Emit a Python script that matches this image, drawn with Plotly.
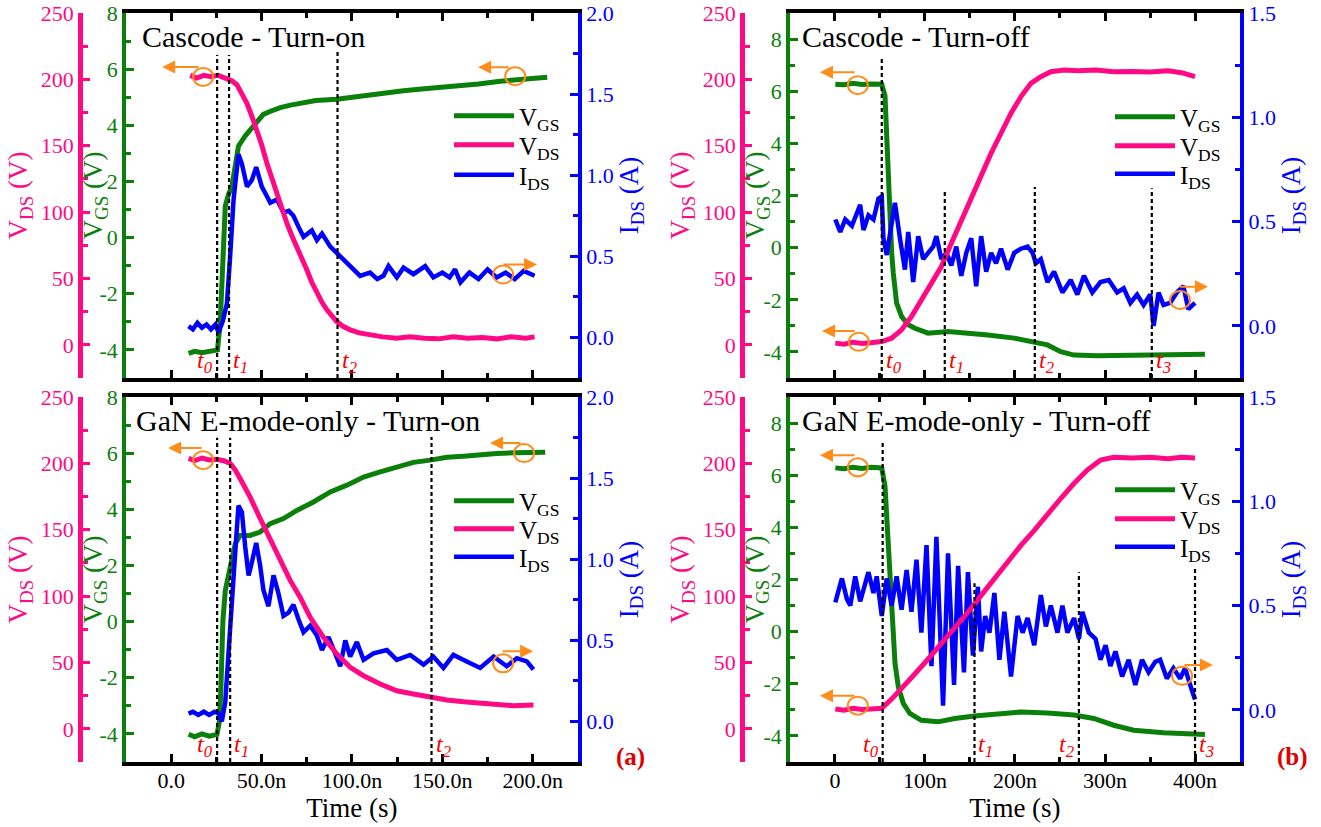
import plotly.graph_objects as go

FONT = "Liberation Serif, Times New Roman, Times, serif"
PINK = "#FF0A84"
GREEN = "#0A800A"
BLUE = "#0000FF"
ORANGE = "#FF8C1A"
TRED = "#FF0000"

# ---------------- data (time in ns) ----------------
# (a) top : Cascode - Turn-on
a1_t_vgs = [9.6, 13, 17, 21, 25.6, 27.1, 28.6, 29.9, 31.7, 33.6, 35.4, 37.2, 40.9, 45.5, 51, 55, 60.3, 66,
            73.2, 80, 91.6, 100, 110, 120, 128.5, 140, 150, 159.8, 170, 182, 195, 208]
a1_vgs = [-4.12, -4.05, -4.1, -4.05, -4.0, -3.04, -0.67, 1.12, 1.54, 1.83, 2.55, 3.26, 3.62, 3.98, 4.39, 4.5,
          4.63, 4.72, 4.81, 4.88, 4.93, 5.0, 5.1, 5.15, 5.23, 5.3, 5.35, 5.4, 5.47, 5.57, 5.62, 5.71]
a1_t_vds = [10.5, 14, 18, 22, 26, 30.8, 33.5, 36.3, 39, 41.9, 44.7, 47.4, 50.2, 52.9, 55.7, 58.5, 61.2, 64,
            66.8, 69.5, 72.3, 75, 77.8, 80.6, 83.4, 86.1, 88.9, 91.6, 95, 99, 104, 110, 117, 124.8, 132, 140,
            148, 156, 164, 172, 180, 188, 196, 201]
a1_vds = [203, 201, 203, 202, 203, 201, 199, 196, 190, 182, 172, 162, 150, 137, 125, 114, 102, 91.6, 82, 74,
          65, 56.5, 47, 39, 32, 26.4, 21.5, 17.5, 14, 11.3, 9, 7.5, 6, 5, 6, 5, 4.5, 6, 5, 5.5, 4.5, 6, 5, 6]
a1_t_ids = [9.6, 12, 14.5, 17, 19.5, 22, 24.5, 26.2, 28.5, 30.8, 32.6, 34.5, 37.2, 39.1, 41.9, 44.6, 47, 50.1,
            52.5, 54.8, 58.5, 62.1, 65, 67.6, 70.5, 73.2, 77.8, 80.6, 83.4, 88, 93.5, 99, 104.5, 110, 114,
            117.4, 120.2, 124.8, 128.5, 134, 140.5, 145, 150, 154, 157, 160, 165, 170, 175, 180, 185, 190,
            195, 201]
a1_ids = [0.07, 0.05, 0.09, 0.06, 0.08, 0.05, 0.08, 0.03, 0.1, 0.21, 0.50, 0.85, 1.13, 1.07, 0.93, 0.97, 1.05,
          0.93, 0.88, 0.83, 0.85, 0.77, 0.78, 0.75, 0.68, 0.62, 0.66, 0.60, 0.64, 0.56, 0.50, 0.44, 0.38, 0.40,
          0.36, 0.38, 0.44, 0.37, 0.43, 0.39, 0.44, 0.37, 0.40, 0.37, 0.42, 0.34, 0.40, 0.36, 0.42, 0.37, 0.40,
          0.36, 0.41, 0.38]

# (a) bottom : GaN E-mode-only - Turn-on
a2_t_vgs = [9.6, 13, 17, 21, 25.3, 26.7, 27.5, 28.6, 29.9, 31.7, 33.6, 35.4, 38.1, 43.6, 49.2, 54.8, 62.1,
            69.5, 78.7, 88, 97.2, 106.4, 115.6, 124.8, 134, 143.3, 152.5, 161.7, 170.9, 180, 189.3, 198.6, 206.9]
a2_vgs = [-4.01, -4.1, -4.0, -4.08, -4.02, -3.54, -2.35, 0.04, 1.1, 1.7, 2.18, 2.77, 3.07, 3.07, 3.19, 3.49,
          3.67, 3.96, 4.26, 4.62, 4.86, 5.15, 5.33, 5.51, 5.67, 5.75, 5.85, 5.89, 5.96, 5.99, 6.01, 6.01, 6.03]
a2_t_vds = [9.6, 13, 17, 21, 25, 29, 32.6, 35.4, 38.1, 43.6, 49.2, 54.8, 60.3, 65.8, 71.3, 76.9, 84.2, 91.6,
            99, 106.4, 115.6, 124.8, 134, 143.3, 152.5, 161.7, 170.9, 180, 189.3, 200.4]
a2_vds = [203.7, 202, 204, 202.5, 203, 202, 200, 195, 188.6, 174.7, 158.4, 142, 126.9, 111.8, 99.2, 84, 69,
          56.4, 46.3, 40, 33.8, 28.7, 26.2, 23.6, 21.7, 20.4, 19.1, 18.1, 17.4, 17.9]
a2_t_ids = [9.6, 12, 15, 18, 21, 24, 26.2, 28, 29.9, 32.6, 35.4, 37.2, 39.1, 40.9, 42.8, 44.6, 47, 49.2, 51,
            53.8, 56.6, 59.3, 62.1, 64.9, 67.6, 70.4, 73.2, 76.9, 80.6, 83.4, 87, 90.7, 93.5, 96.3, 99, 102.7,
            106.4, 111.9, 119.3, 124.8, 132.2, 139.6, 145, 150.6, 156.1, 163.5, 170.9, 178.3, 185.6, 191.2,
            196.7, 200.4]
a2_ids = [0.048, 0.06, 0.04, 0.06, 0.04, 0.06, 0.05, 0.0, 0.12, 0.53, 1.04, 1.33, 1.29, 1.08, 0.90, 0.98, 1.10,
          0.96, 0.81, 0.71, 0.90, 0.79, 0.65, 0.67, 0.72, 0.63, 0.55, 0.59, 0.53, 0.44, 0.52, 0.42, 0.34, 0.50,
          0.40, 0.49, 0.38, 0.42, 0.44, 0.38, 0.41, 0.35, 0.40, 0.33, 0.41, 0.37, 0.33, 0.40, 0.34, 0.39, 0.37,
          0.32]

# (b) top : Cascode - Turn-off
b1_t_vgs = [0.4, 10, 20, 30, 40, 52, 55.6, 57.5, 59.3, 61.1, 63, 64.8, 68.5, 74, 81.4, 88.8, 103.5, 125.6,
            147.7, 169.8, 199.2, 221.4, 236.1, 250.8, 265.5, 291.4, 328.2, 365, 411]
b1_vgs = [6.27, 6.25, 6.3, 6.26, 6.28, 6.27, 5.82, 4.15, 2.23, 0.95, -0.2, -0.97, -2.13, -2.64, -2.96, -3.09,
          -3.28, -3.22, -3.28, -3.35, -3.47, -3.6, -3.73, -3.99, -4.12, -4.15, -4.12, -4.08, -4.09]
b1_t_vds = [0.4, 10, 20, 30, 40, 52, 63, 74, 85, 96, 107.2, 118.2, 129.3, 140.3, 151.4, 162.4, 173.5, 184.5,
            195.6, 206.6, 217.7, 228.7, 239.8, 254.5, 270, 290, 309.7, 330, 350, 370, 385, 400]
b1_vds = [1.3, 0.5, 2, 1, 1.5, 2.5, 5, 11.3, 21.3, 33.9, 46.5, 59, 76.6, 94, 111.7, 128, 144.4, 159.4, 174.5,
          187, 197, 202, 205.8, 207, 206.5, 207, 205.8, 206, 205.5, 206.5, 205, 202]
b1_t_ids = [0.4, 5.9, 11.4, 18.8, 24.3, 28, 31.7, 37.2, 42.8, 48.3, 52, 53.8, 57.5, 61.1, 66.6, 72.2, 77.7,
            81.4, 86.9, 92.5, 98, 103.5, 109.1, 112.7, 118.2, 123.8, 129.3, 134.8, 140.3, 145.9, 151.4, 156.9,
            162.4, 168, 173.5, 179, 184.5, 191.9, 199.2, 206.6, 214, 219.6, 223.2, 228.7, 236.1, 243.4, 252.7,
            261.9, 269.3, 276.6, 285.9, 295, 304.2, 313.5, 320.8, 328.2, 335.6, 342.9, 350.3, 354, 359.5, 365,
            372.4, 379.8, 387.1, 392.6, 400]
b1_ids = [0.51, 0.45, 0.51, 0.48, 0.54, 0.58, 0.46, 0.53, 0.51, 0.61, 0.62, 0.42, 0.34, 0.43, 0.59, 0.42, 0.27,
          0.45, 0.21, 0.43, 0.32, 0.35, 0.38, 0.43, 0.32, 0.35, 0.29, 0.38, 0.24, 0.35, 0.42, 0.19, 0.43, 0.26,
          0.35, 0.30, 0.37, 0.27, 0.35, 0.37, 0.38, 0.35, 0.30, 0.32, 0.21, 0.26, 0.16, 0.22, 0.15, 0.24, 0.16,
          0.21, 0.22, 0.16, 0.18, 0.11, 0.15, 0.10, 0.15, 0.00, 0.16, 0.10, 0.11, 0.16, 0.19, 0.08, 0.11]

# (b) bottom : GaN E-mode-only - Turn-off
b2_t_vgs = [0.4, 10, 20, 30, 40, 52, 55.6, 57.5, 60, 63, 66.7, 70.4, 75.9, 83.2, 96, 114.6, 133, 155.1, 180.9,
            206.6, 236.1, 265.5, 287.6, 309.7, 331.8, 365, 411]
b2_vgs = [6.28, 6.25, 6.3, 6.26, 6.3, 6.28, 5.58, 4.3, 2.37, 0.45, -1.22, -2.12, -2.75, -3.14, -3.4, -3.46,
          -3.33, -3.24, -3.14, -3.08, -3.12, -3.2, -3.33, -3.59, -3.78, -3.88, -3.95]
b2_t_vds = [0.4, 10, 20, 30, 40, 52, 63, 74, 88.7, 103.5, 118.2, 133, 147.7, 162.4, 177.1, 191.9, 206.6, 221.4,
            236.1, 250.8, 265.5, 280.3, 295, 309.7, 330, 350, 370, 385, 400]
b2_vds = [14.9, 14, 15.5, 14.5, 15, 15.5, 22.4, 30, 41.3, 52.6, 64, 75.3, 87.8, 100.5, 113.1, 125.7, 138.2,
          149.5, 162.2, 173.5, 184.8, 194.9, 202.4, 204.5, 204, 204.5, 203.5, 204.5, 204]
b2_t_ids = [0.4, 7.7, 13.3, 17, 22.5, 28, 37.2, 42.8, 46.4, 52, 57.5, 63, 68.5, 74, 79.6, 85, 90.6, 96, 101.7,
            107.2, 112.7, 120.1, 125.6, 132.3, 136.8, 143.3, 147.7, 153.3, 158.8, 162.4, 166.9, 171.6, 177.1,
            182.7, 188.2, 195.6, 202.9, 208.5, 214, 221.4, 228.7, 234.3, 239.8, 247.2, 252.7, 258.2, 265.6,
            271.1, 274.8, 282.1, 289.5, 295, 300.6, 306, 311.6, 319, 326.3, 333.7, 341.1, 348.4, 355.8, 361.3,
            368.7, 376, 383.4, 389, 394.5, 400]
b2_ids = [0.515, 0.63, 0.53, 0.50, 0.64, 0.52, 0.66, 0.56, 0.64, 0.45, 0.63, 0.50, 0.64, 0.48, 0.67, 0.47,
          0.72, 0.37, 0.79, 0.21, 0.83, 0.02, 0.75, 0.12, 0.69, 0.18, 0.66, 0.26, 0.59, 0.28, 0.45, 0.37, 0.56,
          0.24, 0.47, 0.16, 0.45, 0.37, 0.44, 0.31, 0.55, 0.40, 0.50, 0.37, 0.50, 0.37, 0.44, 0.34, 0.47, 0.37,
          0.34, 0.24, 0.31, 0.21, 0.28, 0.16, 0.24, 0.12, 0.24, 0.18, 0.23, 0.24, 0.15, 0.20, 0.15, 0.20, 0.12,
          0.05]

# switching instants t0..t3 (ns)
a1_tmarks = [25.4, 32, 92]
a2_tmarks = [25.4, 32.6, 144]
b1_tmarks = [52, 122, 222, 352]
b2_tmarks = [53, 155, 271, 400]

# tick labels
xa_tickvals = [0, 50, 100, 150, 200]
xa_ticktext = ["0.0", "50.0n", "100.0n", "150.0n", "200.0n"]
xb_tickvals = [0, 100, 200, 300, 400]
xb_ticktext = ["0", "100n", "200n", "300n", "400n"]
vgs_tickvals = [-4, -2, 0, 2, 4, 6, 8]
vgs_ticktext = ["-4", "-2", "0", "2", "4", "6", "8"]
vds_tickvals = [0, 50, 100, 150, 200, 250]
ids_a_tickvals = [0, 0.5, 1.0, 1.5, 2.0]
ids_a_ticktext = ["0.0", "0.5", "1.0", "1.5", "2.0"]
ids_b_tickvals = [0, 0.5, 1.0, 1.5]
ids_b_ticktext = ["0.0", "0.5", "1.0", "1.5"]

panel_titles = ["Cascode - Turn-on", "GaN E-mode-only - Turn-on",
                "Cascode - Turn-off", "GaN E-mode-only - Turn-off"]
legend_names = ["V<sub>GS</sub>", "V<sub>DS</sub>", "I<sub>DS</sub>"]

# ---------------- layout of the four panels ----------------
W, H = 1321, 827
XA = [0.0954, 0.4375]
XB = [0.598, 0.9387]
YT = [0.5429, 0.9843]
YB = [0.0786, 0.5200]

panels = [
    dict(d=(a1_t_vgs, a1_vgs, a1_t_vds, a1_vds, a1_t_ids, a1_ids), xdom=XA, ydom=YT, xr=[-25, 225],
         xtv=xa_tickvals, xtt=xa_ticktext, xminor=25, showx=False, gr=[-5, 8], br=[-0.25, 2.0],
         btv=ids_a_tickvals, btt=ids_a_ticktext, ppos=80 / W, gx=95 / W, tx=0.031,
         tm=a1_tmarks, tside=["L", "R", "R"], th=[0.885, 0.885, 0.893],
         legx=449 / W, legy=[117, 146, 176],
         circ=[("p", 17.7, 201.8, -5, 209.3, 38), ("g", 190.3, 5.75, 169.8, 6.07, 32),
               ("b", 183.6, 0.388, 202.4, 0.449, -35)]),
    dict(d=(a2_t_vgs, a2_vgs, a2_t_vds, a2_vds, a2_t_ids, a2_ids), xdom=XA, ydom=YB, xr=[-25, 225],
         xtv=xa_tickvals, xtt=xa_ticktext, xminor=25, showx=True, gr=[-5, 8], br=[-0.25, 2.0],
         btv=ids_a_tickvals, btt=ids_a_ticktext, ppos=80 / W, gx=95 / W, tx=0.018,
         tm=a2_tmarks, tside=["L", "R", "R"], th=[0.888, 0.888, 0.89],
         legx=449 / W, legy=[502, 530, 558],
         circ=[("p", 17.7, 202.4, -1.7, 211.5, 35), ("g", 195.2, 6.0, 176.4, 6.36, 32),
               ("b", 183.6, 0.358, 200.2, 0.432, -32)]),
    dict(d=(b1_t_vgs, b1_vgs, b1_t_vds, b1_vds, b1_t_ids, b1_ids), xdom=XB, ydom=YT, xr=[-50, 450],
         xtv=xb_tickvals, xtt=xb_ticktext, xminor=50, showx=False, gr=[-5, 9], br=[-0.25, 1.5],
         btv=ids_b_tickvals, btt=ids_b_ticktext, ppos=742 / W, gx=757 / W, tx=0.022,
         tm=b1_tmarks, tside=["R", "R", "R", "R"], th=[0.879, 0.515, 0.523, 0.52],
         legx=1110 / W, legy=[118, 147, 175],
         circ=[("g", 25.4, 6.23, -16.6, 6.73, 36), ("p", 26.5, 2.3, -14.4, 10.5, 34),
               ("b", 383.4, 0.124, 414.4, 0.187, -30)]),
    dict(d=(b2_t_vgs, b2_vgs, b2_t_vds, b2_vds, b2_t_ids, b2_ids), xdom=XB, ydom=YB, xr=[-50, 450],
         xtv=xb_tickvals, xtt=xb_ticktext, xminor=50, showx=True, gr=[-5, 9], br=[-0.25, 1.5],
         btv=ids_b_tickvals, btt=ids_b_ticktext, ppos=742 / W, gx=757 / W, tx=0.022,
         tm=b2_tmarks, tside=["L", "R", "L", "R"], th=[0.877, 0.49, 0.52, 0.53],
         legx=1110 / W, legy=[491, 520, 548],
         circ=[("g", 25.4, 6.3, -16.6, 6.76, 36), ("p", 25.4, 17.4, -16.6, 24.9, 36),
               ("b", 385.6, 0.163, 419.9, 0.215, -30)]),
]

LEG_FONT = 25
fig = go.Figure()
layout = dict(template="none", width=W, height=H, margin=dict(l=0, r=0, t=0, b=0, pad=0),
              paper_bgcolor="white", plot_bgcolor="white",
              font=dict(family=FONT, size=22, color="black"), showlegend=True)
annotations = []
shapes = []

for i, p in enumerate(panels):
    xn = "" if i == 0 else str(i + 1)
    gi, bi, pi = 3 * i + 1, 3 * i + 2, 3 * i + 3
    gn = "" if gi == 1 else str(gi)
    xref, gref, bref, pref = "x" + xn, "y" + gn, "y" + str(bi), "y" + str(pi)
    tv, vgs, tvd, vds, ti, ids = p["d"]

    # one legend box per entry so that entry spacing follows the original
    legs = []
    for j in range(3):
        li = 3 * i + j + 1
        ln = "legend" if li == 1 else "legend" + str(li)
        legs.append(ln)
        layout[ln] = dict(x=p["legx"], y=1 - (p["legy"][j] - 24) / H, xanchor="left", yanchor="top",
                          bgcolor="rgba(0,0,0,0)", borderwidth=0, itemwidth=60, tracegroupgap=0,
                          font=dict(family=FONT, size=LEG_FONT, color="black"))

    fig.add_trace(go.Scatter(x=tv, y=vgs, xaxis=xref, yaxis=gref, mode="lines", name=legend_names[0],
                             line=dict(color=GREEN, width=5), legend=legs[0]))
    fig.add_trace(go.Scatter(x=tvd, y=vds, xaxis=xref, yaxis=pref, mode="lines", name=legend_names[1],
                             line=dict(color=PINK, width=5), legend=legs[1]))
    fig.add_trace(go.Scatter(x=ti, y=ids, xaxis=xref, yaxis=bref, mode="lines", name=legend_names[2],
                             line=dict(color=BLUE, width=4.5), legend=legs[2]))

    xa = dict(domain=p["xdom"], range=p["xr"], anchor=gref, automargin=False, showline=True,
              linecolor="black", linewidth=3.5,
              mirror="ticks", ticks="inside", ticklen=8, tickwidth=3, tickcolor="black",
              tickmode="array", tickvals=p["xtv"], ticktext=p["xtt"], showticklabels=p["showx"],
              tickfont=dict(family=FONT, size=22, color="black"), ticklabelstandoff=-4,
              ticklabeloverflow="allow",
              minor=dict(dtick=p["xminor"], tick0=0, ticks="inside", ticklen=5, tickwidth=3, tickcolor="black"),
              showgrid=False, zeroline=False)
    if p["showx"]:
        xa["title"] = dict(text="Time (s)", font=dict(family=FONT, size=27, color="black"), standoff=4)
    layout["xaxis" + xn] = xa

    layout["yaxis" + gn] = dict(domain=p["ydom"], range=p["gr"], anchor=xref, side="left", automargin=False,
                                showline=True, ticklabeloverflow="allow",
                                linecolor=GREEN, linewidth=3.5, ticks="inside", ticklen=8, tickwidth=3,
                                tickcolor=GREEN, tickmode="array", tickvals=vgs_tickvals, ticktext=vgs_ticktext,
                                tickfont=dict(family=FONT, size=22, color=GREEN),
                                minor=dict(dtick=1, tick0=0, ticks="inside", ticklen=5, tickwidth=3,
                                           tickcolor=GREEN),
                                showgrid=False, zeroline=False)
    layout["yaxis" + str(bi)] = dict(range=p["br"], anchor=xref, overlaying=gref, side="right", automargin=False,
                                     showline=True, ticklabeloverflow="allow",
                                     linecolor=BLUE, linewidth=4, ticks="inside", ticklen=8, tickwidth=3,
                                     tickcolor=BLUE, tickmode="array", tickvals=p["btv"], ticktext=p["btt"],
                                     tickfont=dict(family=FONT, size=22, color=BLUE),
                                     minor=dict(dtick=0.25, tick0=0, ticks="inside", ticklen=5, tickwidth=3,
                                                tickcolor=BLUE),
                                     title=dict(text="I<sub>DS</sub> (A)", font=dict(family=FONT, size=27, color=BLUE),
                                                standoff=6),
                                     showgrid=False, zeroline=False)
    layout["yaxis" + str(pi)] = dict(range=[-25, 250], anchor="free", position=p["ppos"], overlaying=gref,
                                     side="left", automargin=False, showline=True, linecolor=PINK,
                                     linewidth=4.5, ticks="inside", ticklabeloverflow="allow",
                                     ticklen=7, tickwidth=3, tickcolor=PINK, tickmode="array",
                                     tickvals=vds_tickvals, tickfont=dict(family=FONT, size=22, color=PINK),
                                     minor=dict(dtick=25, tick0=0, ticks="inside", ticklen=5, tickwidth=3,
                                                tickcolor=PINK),
                                     title=dict(text="V<sub>DS</sub> (V)", font=dict(family=FONT, size=27, color=PINK),
                                                standoff=4),
                                     showgrid=False, zeroline=False)

    # V_GS axis title (placed like the original, overlapping the V_DS tick column)
    annotations.append(dict(text="V<sub>GS</sub> (V)", xref="paper", yref=gref + " domain",
                            x=p["gx"], y=0.5, xanchor="center", yanchor="middle", textangle=-90,
                            showarrow=False, font=dict(family=FONT, size=27, color=GREEN)))

    # panel title
    annotations.append(dict(text=panel_titles[i], xref=xref + " domain", yref=gref + " domain",
                            x=p["tx"], y=0.935, xanchor="left", yanchor="middle",
                            showarrow=False, font=dict(family=FONT, size=30, color="black")))

    # switching-instant markers
    for k, (tm, side, h) in enumerate(zip(p["tm"], p["tside"], p["th"])):
        shapes.append(dict(type="line", xref=xref, yref=gref + " domain", x0=tm, x1=tm, y0=0, y1=h,
                           line=dict(color="black", width=2.2, dash="4px,3px")))
        annotations.append(dict(text="<i>t<sub>%d</sub></i>" % k, xref=xref, yref=gref + " domain",
                                x=tm, y=0.045, xanchor="right" if side == "L" else "left",
                                xshift=-2 if side == "L" else 2, yanchor="middle", showarrow=False,
                                font=dict(family=FONT, size=24, color=TRED)))

    # orange circles with arrows pointing to the relevant axis
    for (ax_key, cx, cy, hx, hy, tail) in p["circ"]:
        yr = {"p": pref, "g": gref, "b": bref}[ax_key]
        shapes.append(dict(type="circle", xref=xref, yref=yr, xsizemode="pixel", ysizemode="pixel",
                           xanchor=cx, yanchor=cy, x0=-10, x1=10, y0=-9, y1=9,
                           line=dict(color=ORANGE, width=2)))
        annotations.append(dict(text="", xref=xref, yref=yr, x=hx, y=hy, ax=tail, ay=0, showarrow=True,
                                arrowhead=2, arrowsize=1.3, arrowwidth=2, arrowcolor=ORANGE, standoff=0))

annotations.append(dict(text="<b>(a)</b>", xref="paper", yref="paper", x=630 / W, y=1 - 757 / H,
                        xanchor="center", yanchor="middle", showarrow=False,
                        font=dict(family=FONT, size=25, color="#E00000")))
annotations.append(dict(text="<b>(b)</b>", xref="paper", yref="paper", x=1292 / W, y=1 - 757 / H,
                        xanchor="center", yanchor="middle", showarrow=False,
                        font=dict(family=FONT, size=25, color="#E00000")))

layout["annotations"] = annotations
layout["shapes"] = shapes
fig.update_layout(**layout)
fig.write_html("out.html", config={"displayModeBar": False},
               post_script="document.body.style.margin='0px';")
